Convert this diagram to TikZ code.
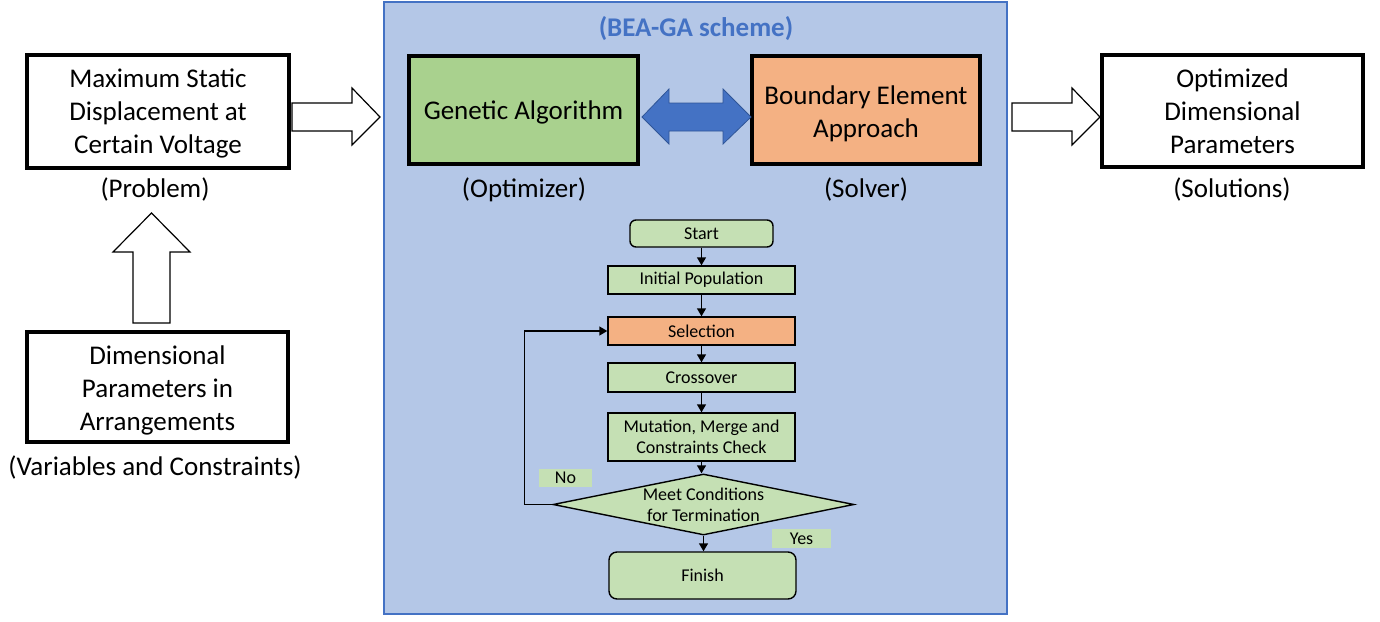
\documentclass[tikz,border=0pt]{standalone}
\usepackage{fontspec}
\setmainfont{Carlito}
\usetikzlibrary{shapes.geometric,arrows.meta}
\definecolor{panelfill}{HTML}{B4C7E7}
\definecolor{paneldraw}{HTML}{4472C4}
\definecolor{gagreen}{HTML}{A9D18E}
\definecolor{beaorange}{HTML}{F4B183}
\definecolor{flowgreen}{HTML}{C5E0B4}
\definecolor{titleblue}{HTML}{4472C4}
\definecolor{arrowblue}{HTML}{4472C4}
\definecolor{arrowedge}{HTML}{2F5597}
\newcommand\figbig{\fontsize{13.5}{16.5}\selectfont}
\newcommand\figsmall{\fontsize{9}{10.5}\selectfont}
\newcommand\lowerby[1]{\rule{0pt}{#1}}
\begin{document}
\begin{tikzpicture}[x=0.5pt,y=-0.5pt,
  bigbox/.style={draw=black, line width=2pt, align=center, font=\figbig, inner sep=0pt},
  fbox/.style={draw=black, line width=0.7pt, fill=flowgreen, align=center, font=\figsmall, inner sep=0pt, minimum width=93.5pt},
  flowarrow/.style={-{Triangle[length=4pt,width=4.5pt]}, line width=0.7pt},
  blockarrow/.style={draw=black, fill=white, line width=0.6pt, line join=miter},
  caption/.style={font=\figbig, inner sep=0pt},
  tag/.style={fill=flowgreen, font=\figsmall, inner sep=0pt}]
\useasboundingbox (0,0) rectangle (1380,621);
% panel
\node[draw=paneldraw, fill=panelfill, line width=0.8pt, minimum width=311.5pt, minimum height=306pt, inner sep=0pt] (panel) at (695.5,308) {};
\node[font=\figbig\bfseries, text=titleblue, inner sep=0pt] (title) at (696,28.5) {(BEA-GA scheme)};
% main boxes
\node[bigbox, fill=gagreen, minimum width=114.5pt, minimum height=54pt] (ga) at (523.5,110) {\lowerby{11.5pt}Genetic Algorithm};
\node[bigbox, fill=beaorange, minimum width=114pt, minimum height=54pt] (bea) at (866,110) {\lowerby{13pt}Boundary Element\\Approach};
\node[caption] (opt) at (524,189.5) {(Optimizer)};
\node[caption] (solv) at (866,189.5) {(Solver)};
\node[bigbox, fill=white, minimum width=131pt, minimum height=56.5pt] (prob) at (158,111.5) {\lowerby{11.5pt}Maximum Static\\Displacement at\\Certain Voltage};
\node[caption] (probc) at (155,189) {(Problem)};
\node[bigbox, fill=white, minimum width=130.5pt, minimum height=55pt] (vars) at (157.5,387) {\lowerby{12.5pt}Dimensional\\Parameters in\\Arrangements};
\node[caption] (varsc) at (155,467) {(Variables and Constraints)};
\node[bigbox, fill=white, minimum width=130.5pt, minimum height=56pt] (sol) at (1232.5,111) {Optimized\\Dimensional\\Parameters};
\node[caption] (solc) at (1232,189) {(Solutions)};
% block arrows
\path[blockarrow] (292,103) -- (352,103) -- (352,88) -- (380,117) -- (352,145) -- (352,131) -- (292,131) -- cycle;
\path[blockarrow] (1012,103) -- (1072,103) -- (1072,88) -- (1100,117) -- (1072,145) -- (1072,131) -- (1012,131) -- cycle;
\path[blockarrow] (133,323) -- (133,252) -- (113,252) -- (151.5,213) -- (190,252) -- (170,252) -- (170,323) -- cycle;
\path[fill=arrowblue, draw=arrowedge, line width=0.4pt] (642,117) -- (669,89) -- (669,103) -- (723,103) -- (723,89) -- (751,117) -- (723,144) -- (723,131) -- (669,131) -- (669,144) -- cycle;
% flowchart
\node[fbox, rounded corners=3pt, minimum width=71.5pt, minimum height=13.5pt] (start) at (701.5,233.5) {Start};
\node[fbox, minimum height=14pt] (init) at (701.5,280) {Initial Population};
\node[fbox, fill=beaorange, minimum height=14pt] (sel) at (701.5,331) {Selection};
\node[fbox, minimum height=14.5pt] (cross) at (701.5,377.5) {Crossover};
\node[fbox, minimum height=24pt] (mut) at (701.5,437) {Mutation, Merge and\\Constraints Check};
\node[draw=black, line width=0.7pt, fill=flowgreen, shape=diamond, aspect=4.93, inner xsep=0pt, inner ysep=-1pt, minimum width=150.5pt, minimum height=30.5pt, align=center, font=\figsmall] (cond) at (703.5,504.5) {Meet Conditions\\for Termination};
\node[fbox, rounded corners=4pt, minimum height=23.5pt] (fin) at (702.5,575.5) {Finish};
\node[tag, minimum width=26.5pt, minimum height=9pt] (no) at (565.5,478) {No};
\node[tag, minimum width=29.5pt, minimum height=9.5pt] (yes) at (801.5,538.5) {Yes};
\draw[flowarrow] (start) -- (init);
\draw[flowarrow] (init) -- (sel);
\draw[flowarrow] (sel) -- (cross);
\draw[flowarrow] (cross) -- (mut);
\draw[flowarrow] (mut.south) -- (mut.south |- cond.north);
\draw[flowarrow] (cond.south) -- (cond.south |- fin.north);
\draw[flowarrow] (cond.west) -- ++(-28,0) |- (sel.west);
\end{tikzpicture}
\end{document}
